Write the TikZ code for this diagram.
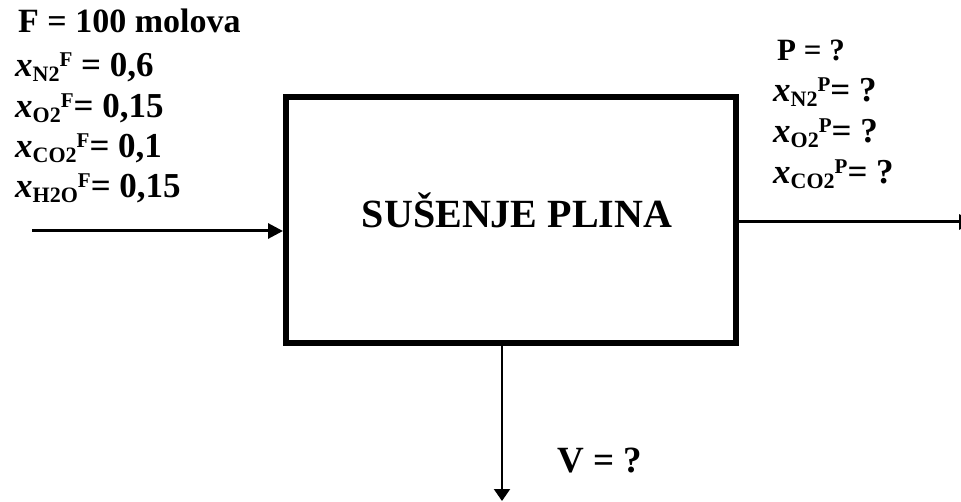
\documentclass[tikz,border=0pt]{standalone}
\usepackage{fontspec}
\setmainfont{Liberation Serif}
\usetikzlibrary{arrows.meta,positioning}
\newcommand{\molx}[2]{\textit{x}\raisebox{-5pt}{\fontsize{22}{22}\selectfont #1}\raisebox{10pt}{\fontsize{21}{21}\selectfont #2}}

\begin{document}
\begin{tikzpicture}[
  x=1pt, y=-1pt,
  unit/.style={draw, line width=6pt, minimum width=450pt, minimum height=246pt,
               inner sep=0pt, anchor=north west},
  lab/.style={anchor=base west, inner sep=0pt, font=\fontsize{35}{35}\selectfont\bfseries},
  big/.style={anchor=base west, inner sep=0pt, font=\fontsize{34}{34}\selectfont\bfseries},
  arr/.style={-{Triangle[length=15pt,width=15pt]}, line width=3pt},
  thinarr/.style={-{Triangle[length=12pt,width=16pt]}, line width=2pt}
]
\useasboundingbox (0,0) rectangle (961,502);
% process unit
\node[unit] (dry) at (283,94) {};
\node[anchor=base, inner sep=0pt, font=\fontsize{40}{40}\selectfont\bfseries]
  (title) at (517,228) {SUŠENJE PLINA};
% feed stream F
\node[big] (F) at (18,33) {F = 100 molova};
\node[lab] (fN2) at (15,77) {\molx{N2}{F} = 0,6};
\node[lab] (fO2) at (15,118) {\molx{O2}{F}= 0,15};
\node[lab] (fCO2) at (15,158) {\molx{CO2}{F}= 0,1};
\node[lab] (fH2O) at (15,198) {\molx{H2O}{F}= 0,15};
% product stream P
\node[lab, font=\fontsize{31}{31}\selectfont\bfseries] (P) at (777,61) {P = ?};
\node[lab] (pN2) at (773,102) {\molx{N2}{P}= ?};
\node[lab] (pO2) at (773,143) {\molx{O2}{P}= ?};
\node[lab] (pCO2) at (773,184) {\molx{CO2}{P}= ?};
% water stream V
\node[big, font=\fontsize{37}{37}\selectfont\bfseries] (V) at (557,472) {V = ?};
% connectors
\coordinate (in) at (32,231);
\coordinate (out) at (974,222);
\coordinate (down) at (502,501);
\draw[arr] (in) -- (in -| dry.west);
\draw[arr] (out -| dry.east) -- (out);
\draw[thinarr] (dry.south -| down) -- (down);
\end{tikzpicture}
\end{document}
